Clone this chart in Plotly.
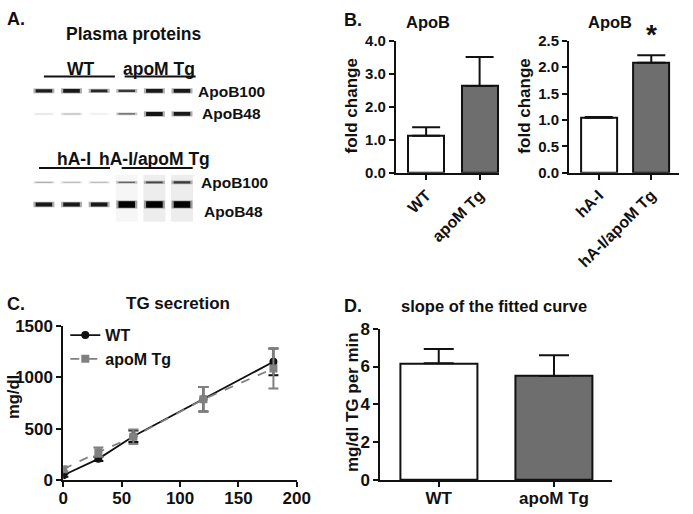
import plotly.graph_objects as go

W, H = 693, 514
FONT = "Liberation Sans, Arial, sans-serif"

# ---------------- data ----------------
# Panel A: western blot band intensities (0..1) per lane
lanes = [1, 2, 3, 4, 5, 6]
gel1_apob100 = [0.88, 0.9, 0.84, 0.78, 0.9, 0.9]
gel1_apob48 = [0.12, 0.3, 0.08, 0.62, 0.92, 0.9]
gel2_apob100 = [0.35, 0.3, 0.3, 0.6, 0.72, 0.78]
gel2_apob48 = [0.9, 0.9, 0.9, 1.0, 1.0, 1.0]
gel2_smear = [0.0, 0.0, 0.0, 0.035, 0.07, 0.07]
band_rows = [85, 109, 180, 203]

# Panel B
b1_groups = ["WT", "apoM Tg"]
b1_values = [1.12, 2.63]
b1_err = [0.26, 0.88]
b2_groups = ["hA-I", "hA-I/apoM Tg"]
b2_values = [1.04, 2.085]
b2_err = [0.015, 0.14]

# Panel C
time_min = [0, 30, 60, 120, 180]
tg_wt = [45, 205, 425, 785, 1150]
tg_wt_err = [15, 20, 55, 120, 130]
tg_apom = [105, 270, 420, 785, 1085]
tg_apom_err = [20, 45, 70, 120, 195]

# Panel D
d_groups = ["WT", "apoM Tg"]
d_values = [6.17, 5.50]
d_err = [0.76, 1.10]

GREY = "#6e6e6e"
LGREY = "#808080"


def px(x):
    return x / W


def py(y):
    return 1 - y / H


fig = go.Figure()

# ---------------- Panel A: blots ----------------
for ln, s in zip(lanes, gel2_smear):
    if s > 0:
        fig.add_trace(go.Scatter(
            x=[ln, ln], y=[band_rows[2] - 8, band_rows[3] + 18], mode="lines",
            line=dict(color=f"rgba(0,0,0,{s})", width=22),
            xaxis="x", yaxis="y", showlegend=False, hoverinfo="skip"))
for row_y, inten in zip(band_rows, [gel1_apob100, gel1_apob48, gel2_apob100, gel2_apob48]):
    for ln, i in zip(lanes, inten):
        g = int(max(0, min(255, 255 * (1 - i))))
        w = 0.9 + 5.4 * i ** 6
        # soft halo (tapered band edges)
        fig.add_trace(go.Scatter(
            x=[ln - 0.38, ln + 0.38], y=[row_y, row_y], mode="lines",
            line=dict(color=f"rgba({g},{g},{g},0.35)", width=w + 1.5),
            xaxis="x", yaxis="y", showlegend=False, hoverinfo="skip"))
        fig.add_trace(go.Scatter(
            x=[ln - 0.3, ln + 0.3], y=[row_y, row_y], mode="lines",
            line=dict(color=f"rgb({g},{g},{g})", width=w),
            xaxis="x", yaxis="y", showlegend=False, hoverinfo="skip"))

# ---------------- Panel B ----------------
b1_x = list(range(len(b1_groups)))
fig.add_trace(go.Bar(
    x=b1_x, y=b1_values, width=0.67, xaxis="x2", yaxis="y2",
    marker=dict(color=["white", GREY], line=dict(color="#111", width=2)),
    error_y=dict(type="data", symmetric=False, array=b1_err, arrayminus=[0, 0],
                 color="#111", thickness=2, width=14),
    showlegend=False))
b2_x = list(range(len(b2_groups)))
fig.add_trace(go.Bar(
    x=b2_x, y=b2_values, width=0.685, xaxis="x3", yaxis="y3",
    marker=dict(color=["white", GREY], line=dict(color="#111", width=2)),
    error_y=dict(type="data", symmetric=False, array=b2_err, arrayminus=[0, 0],
                 color="#111", thickness=2, width=14),
    showlegend=False))

# ---------------- Panel C ----------------
fig.add_trace(go.Scatter(
    x=time_min, y=tg_wt, name="WT", mode="lines+markers",
    line=dict(color="#111", width=1.8),
    marker=dict(symbol="circle", size=8, color="#111"),
    error_y=dict(type="data", array=tg_wt_err, color="#111", thickness=2, width=5),
    xaxis="x4", yaxis="y4"))
fig.add_trace(go.Scatter(
    x=time_min, y=tg_apom, name="apoM Tg", mode="lines+markers",
    line=dict(color=LGREY, width=1.8, dash="dash"),
    marker=dict(symbol="square", size=8, color=LGREY),
    error_y=dict(type="data", array=tg_apom_err, color=LGREY, thickness=2, width=5),
    xaxis="x4", yaxis="y4"))

# ---------------- Panel D ----------------
d_x = list(range(len(d_groups)))
fig.add_trace(go.Bar(
    x=d_x, y=d_values, width=0.667, xaxis="x5", yaxis="y5",
    marker=dict(color=["white", GREY], line=dict(color="#111", width=2)),
    error_y=dict(type="data", symmetric=False, array=d_err, arrayminus=[0, 0],
                 color="#111", thickness=2, width=15),
    showlegend=False))

axis_common = dict(showline=True, linecolor="#111", linewidth=2, ticks="outside",
                   tickcolor="#111", tickwidth=2, showgrid=False, zeroline=False,
                   fixedrange=True)

fig.update_layout(
    width=W, height=H, margin=dict(l=0, r=0, t=0, b=0),
    paper_bgcolor="white", plot_bgcolor="rgba(0,0,0,0)",
    font=dict(family=FONT, color="#111", size=14),
    bargap=0,
    xaxis=dict(domain=[0, px(230)], range=[-0.408, 7.69], visible=False, fixedrange=True),
    yaxis=dict(domain=[py(222), py(58)], range=[222, 58], visible=False, fixedrange=True),
    xaxis2=dict(domain=[px(402), px(508)], range=[-0.564, 1.364], anchor="y2",
                tickvals=b1_x, ticktext=b1_groups, tickangle=-45, ticklen=5,
                tickfont=dict(size=16, weight="bold"), **axis_common),
    yaxis2=dict(domain=[py(170), py(33)], range=[0, 4], anchor="x2",
                tickvals=[0, 1, 2, 3, 4], ticktext=["0.0", "1.0", "2.0", "3.0", "4.0"],
                ticklen=5, tickfont=dict(size=15, weight="bold"), **axis_common),
    xaxis3=dict(domain=[px(580), 1.0], range=[-0.565, 1.528], anchor="y3",
                tickvals=b2_x, ticktext=b2_groups, tickangle=-45, ticklen=5,
                tickfont=dict(size=16, weight="bold"), **axis_common),
    yaxis3=dict(domain=[py(170), py(33)], range=[0, 2.5], anchor="x3",
                tickvals=[0, 0.5, 1, 1.5, 2, 2.5],
                ticktext=["0.0", "0.5", "1.0", "1.5", "2.0", "2.5"],
                ticklen=5, tickfont=dict(size=15, weight="bold"), **axis_common),
    xaxis4=dict(domain=[px(60), px(300)], range=[0, 200], anchor="y4",
                tickvals=[0, 50, 100, 150, 200], ticklen=5, ticklabelstandoff=-3,
                tickfont=dict(size=17, weight="bold"), **axis_common),
    yaxis4=dict(domain=[py(489), py(329)], range=[0, 1500], anchor="x4",
                tickvals=[0, 500, 1000, 1500], ticklen=5,
                tickfont=dict(size=17, weight="bold"), **axis_common),
    xaxis5=dict(domain=[px(386), px(624)], range=[-0.506, 1.502], anchor="y5",
                tickvals=d_x, ticktext=d_groups, ticklen=5, ticklabelstandoff=-3,
                tickfont=dict(size=17, weight="bold"), **axis_common),
    yaxis5=dict(domain=[py(489), py(332)], range=[0, 8], anchor="x5",
                tickvals=[0, 2, 4, 6, 8], ticklen=5,
                tickfont=dict(size=17, weight="bold"), **axis_common),
    legend=dict(x=px(62), y=py(321), xanchor="left", yanchor="top",
                bgcolor="rgba(0,0,0,0)", font=dict(size=16, weight="bold"),
                tracegroupgap=0, itemwidth=30),
)


def ann(text, x, y, size=17, xanchor="center", bold=True, angle=0):
    fig.add_annotation(text=text, x=px(x), y=py(y), xref="paper", yref="paper",
                       xanchor=xanchor, yanchor="middle", showarrow=False,
                       textangle=angle,
                       font=dict(size=size, family=FONT, color="#111",
                                 weight="bold" if bold else "normal"))


# Panel A text
ann("A.", 0, 10, 18, "left")
ann("Plasma proteins", 132, 26, 17.5)
ann("WT", 78, 62, 17.5)
ann("apoM Tg", 158, 62, 17.5)
ann("ApoB100", 196, 86, 15.5, "left")
ann("ApoB48", 201, 108, 15.5, "left")
ann("hA-I", 71, 156, 17.5)
ann("hA-I/apoM Tg", 154, 156, 17.5)
ann("ApoB100", 199, 180, 15.5, "left")
ann("ApoB48", 203, 210, 15.5, "left")
for x0, x1, y in [(40, 113, 70), (123, 196, 70), (35, 108, 165), (120, 193, 165)]:
    fig.add_shape(type="line", xref="paper", yref="paper",
                  x0=px(x0), x1=px(x1), y0=py(y), y1=py(y),
                  line=dict(color="#111", width=2))

# Panel B text
ann("B.", 346, 11, 18, "left")
ann("ApoB", 435, 13, 16.5)
ann("ApoB", 622, 13, 16.5)
ann("fold change", 356, 101, 17, angle=-90)
ann("fold change", 534, 101, 17, angle=-90)
fig.add_annotation(text="*", x=1, y=2.28, xref="x3", yref="y3", showarrow=False,
                   yanchor="bottom", font=dict(size=28, family=FONT, color="#111",
                                                weight="bold"))

# Panel C text
ann("C.", 0, 306, 18, "left")
ann("TG secretion", 178, 306, 17)
ann("mg/dl", 8, 403, 16.5, angle=-90)

# Panel D text
ann("D.", 346, 308, 18, "left")
ann("slope of the fitted curve", 503, 308, 16.5)
ann("mg/dl TG per min", 358, 408, 17, angle=-90)

fig.write_html(
    "out.html",
    config={"displayModeBar": False},
    post_script="document.body.style.margin='0px';document.body.style.overflow='hidden';",
)
